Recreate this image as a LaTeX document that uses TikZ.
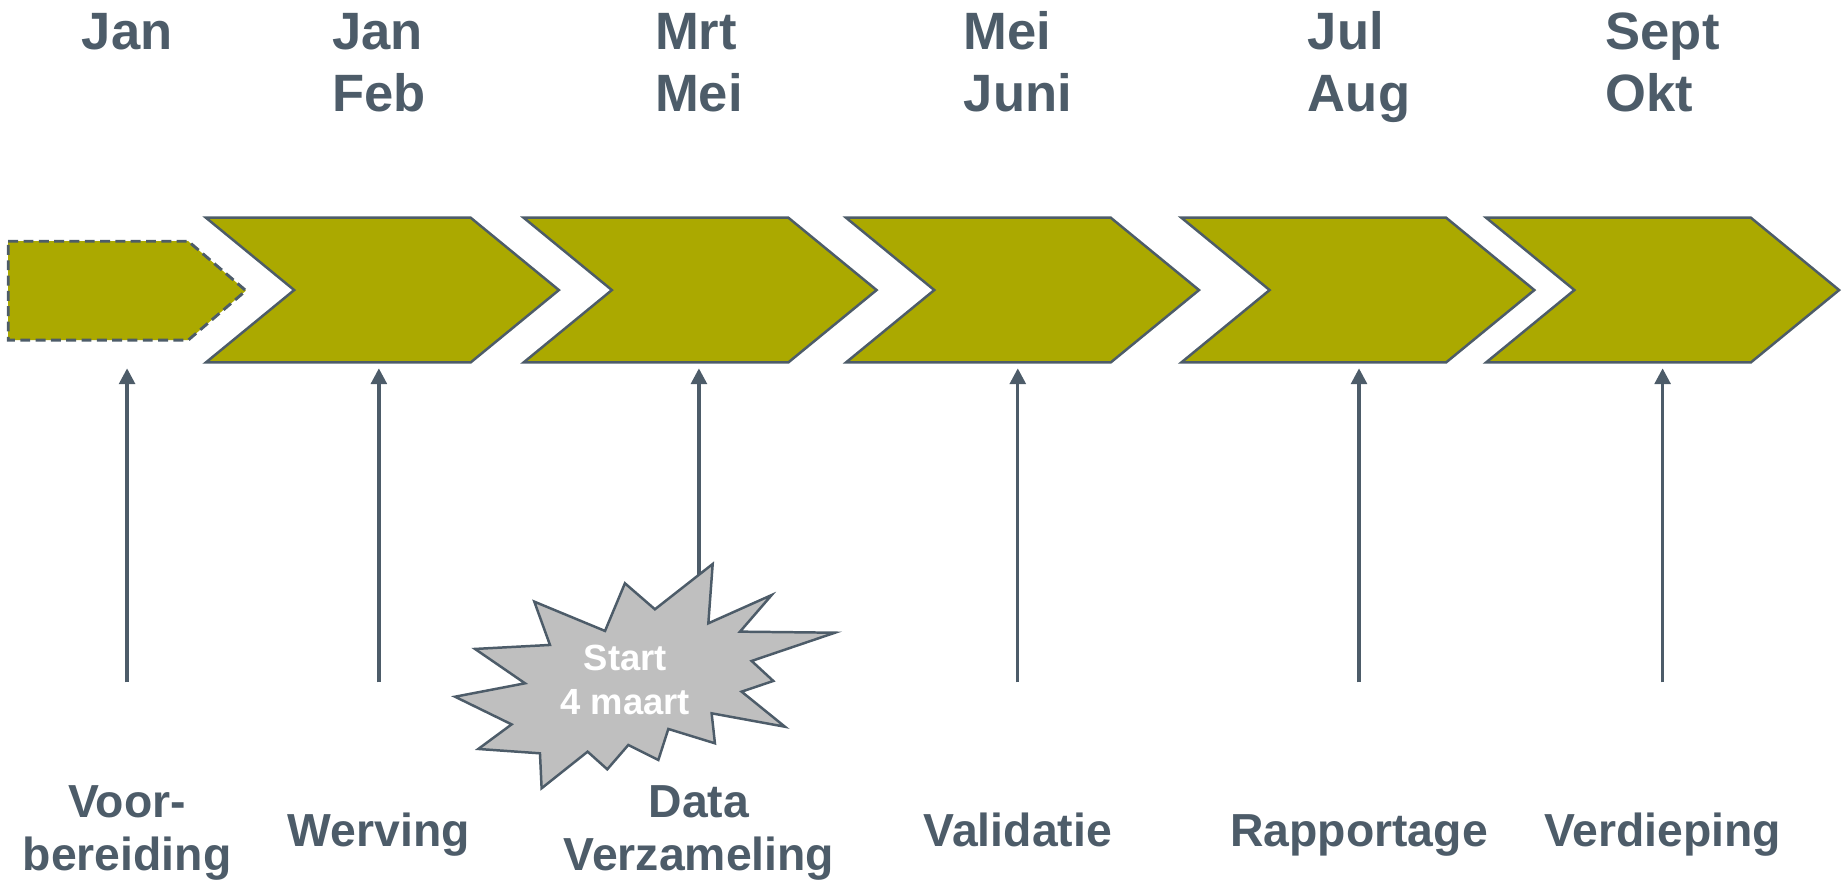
\documentclass[tikz,border=0pt]{standalone}
\usepackage{fontspec}
\setmainfont{Liberation Sans}
\usepackage{tikz}
\usetikzlibrary{arrows.meta}
\definecolor{leisteen}{HTML}{4D5C69}
\definecolor{olijf}{HTML}{ABA900}
\definecolor{ster}{HTML}{BFBFBF}
\tikzset{%
  fase/.style={draw=leisteen,fill=olijf,line width=0.6pt},
  voorfase/.style={fase,line width=0.7pt,dash pattern=on 2.4pt off 1.3pt},
  pijl/.style={draw=leisteen,line width=0.8pt,-{Triangle[width=3.8pt,length=3.8pt]}},
  maand/.style={text=leisteen,font=\fontsize{12.7}{15}\selectfont\bfseries,align=left,anchor=base,inner sep=0},
  taak/.style={text=leisteen,font=\fontsize{11.2}{12.8}\selectfont\bfseries,align=center,anchor=base,inner sep=0},
  knal/.style={draw=leisteen,fill=ster,line width=0.6pt,line join=miter}
}

\begin{document}
\begin{tikzpicture}[x=0.01cm,y=-0.01cm]
  \useasboundingbox (0,0) rectangle (1568,750);
  % fasen
  \draw[voorfase] (7,205) -- (160,205) -- (209,247) -- (160,289) -- (7,289) -- cycle;
  \foreach \x in {175,445,719,1004,1263}
    \draw[fase] (\x,185) -- (\x+225,185) -- (\x+300,246.5) -- (\x+225,308)
      -- (\x,308) -- (\x+75,246.5) -- cycle;
  % pijlen
  \foreach \x [count=\i] in {108,322,594,865,1155,1413} {
    \coordinate (voet\i) at (\x,580);
    \coordinate (kop\i) at (\x,313);
    \draw[pijl] (voet\i) -- (kop\i);
  }
  % maanden (base = laatste regel)
  \node[maand] (m1) at (108,42) {Jan};
  \node[maand] (m2) at (322,95) {Jan\\Feb};
  \node[maand] (m3) at (594,95) {Mrt\\Mei};
  \node[maand] (m4) at (865,95) {Mei\\Juni};
  \node[maand] (m5) at (1155,95) {Jul\\Aug};
  \node[maand] (m6) at (1413,95) {Sept\\Okt};
  % start
  \draw[knal] (605.7,479.3) -- (602.0,529.7) -- (655.8,505.7) -- (628.9,536.8)
    -- (709.6,537.7) -- (638.8,561.7) -- (657.2,578.7) -- (630.3,587.8)
    -- (667.1,617.6) -- (604.8,606.2) -- (607.6,631.7) -- (568.0,619.5)
    -- (559.5,645.9) -- (534.0,633.1) -- (516.1,653.8) -- (499.4,638.8)
    -- (460.3,669.9) -- (458.9,640.2) -- (406.5,636.5) -- (434.8,615.6)
    -- (386.7,592.1) -- (446.2,580.7) -- (403.7,551.5) -- (467.4,548.1)
    -- (454.1,511.3) -- (514.2,536.2) -- (531.1,495.7) -- (556.6,517.8) -- cycle;
  \node[text=white,font=\fontsize{8.8}{10.8}\selectfont\bfseries,align=center,
    anchor=base,inner sep=0] (start) at (531.5,607.6) {Start\\4 maart};
  % taken
  \node[taak] (t1) at (108,740) {Voor-\\bereiding};
  \node[taak] (t2) at (322,719) {Werving};
  \node[taak] (t3) at (594,740) {Data\\Verzameling};
  \node[taak] (t4) at (865,719) {Validatie};
  \node[taak] (t5) at (1155,719) {Rapportage};
  \node[taak] (t6) at (1413,719) {Verdieping};
\end{tikzpicture}
\end{document}
